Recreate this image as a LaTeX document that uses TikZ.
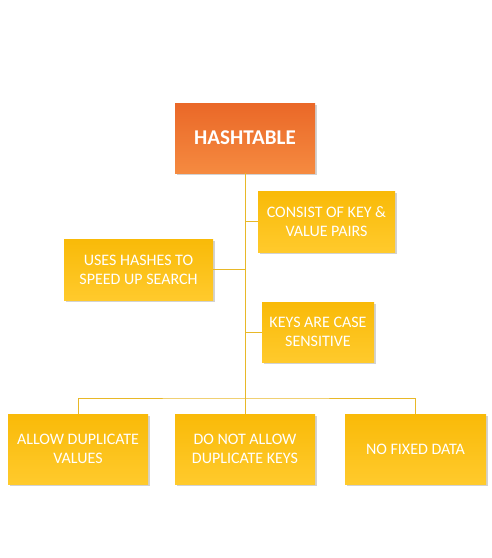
\documentclass[tikz,border=0pt]{standalone}
\usepackage{fontspec}
\setmainfont{Carlito}
\usetikzlibrary{shadows}

\definecolor{orangetop}{RGB}{234,104,40}
\definecolor{orangebot}{RGB}{245,138,64}
\definecolor{goldtop}{RGB}{249,186,8}
\definecolor{goldbot}{RGB}{255,202,44}
\definecolor{linegold}{RGB}{232,184,40}

\tikzset{
    box/.style={rectangle, text=white, align=center,
        font=\fontsize{16}{19}\selectfont,
        top color=goldtop, bottom color=goldbot, draw=none,
        drop shadow={shadow xshift=1.5pt, shadow yshift=-1.5pt, opacity=0.35}},
    mainbox/.style={box, top color=orangetop, bottom color=orangebot,
        font=\fontsize{21}{24}\selectfont\bfseries},
    link/.style={draw=linegold, line width=1pt}
}

\begin{document}
\begin{tikzpicture}[x=1pt, y=-1pt]
    \useasboundingbox[fill=white] (0,0) rectangle (492,558);

    \node[mainbox, minimum width=140pt, minimum height=70pt] (hash) at (245,138) {HASHTABLE};

    \node[box, minimum width=137pt, minimum height=61pt] (pairs) at (326.5,221.5)
        {CONSIST OF KEY \&\\VALUE PAIRS};
    \node[box, minimum width=149pt, minimum height=61pt] (hashes) at (138.5,269.5)
        {USES HASHES TO\\SPEED UP SEARCH};
    \node[box, minimum width=112pt, minimum height=60pt] (keys) at (318,332)
        {KEYS ARE CASE\\SENSITIVE};

    \node[box, minimum width=140pt, minimum height=70pt] (dupvals) at (78,449)
        {ALLOW DUPLICATE\\VALUES};
    \node[box, minimum width=140pt, minimum height=70pt] (dupkeys) at (245,449)
        {DO NOT ALLOW\\DUPLICATE KEYS};
    \node[box, minimum width=141pt, minimum height=70pt] (nofixed) at (415.5,449)
        {NO FIXED DATA};

    \coordinate (bar) at (245,398);

    \draw[link] (hash.south) -- (bar);
    \draw[link] (pairs.west) -- (hash |- pairs.west);
    \draw[link] (hashes.east) -- (hash |- hashes.east);
    \draw[link] (keys.west) -- (hash |- keys.west);
    \draw[link] (dupvals.north) |- (bar) -| (nofixed.north);
    \draw[link] (bar) -- (dupkeys.north);
\end{tikzpicture}
\end{document}
